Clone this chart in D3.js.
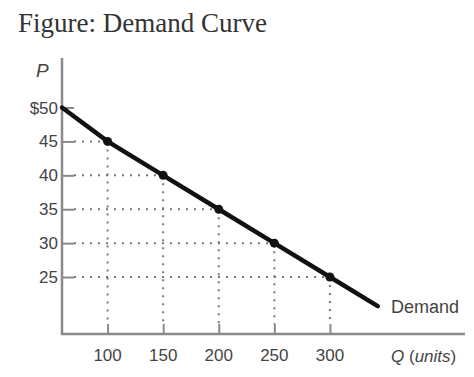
<!DOCTYPE html>
<html lang="en">
<head>
  <meta charset="UTF-8">
  <title>Demand Curve</title>
  <script src="https://d3js.org/d3.v7.min.js"></script>
  <style>
    body { margin: 0; background: #fff; }
    svg { font-family: "Liberation Sans", Arial, sans-serif; }
    .title { font-family: "Liberation Serif", "Times New Roman", serif; font-size: 27px; fill: #333; }
    .tick-label { font-size: 17px; fill: #444; }
    .guide { stroke: #777; stroke-width: 2; stroke-dasharray: 2,6; fill: none; }
    .axis-line { stroke: #8a8a8a; stroke-width: 2.5; }
    .demand { fill: none; stroke: #111; stroke-width: 4.5; stroke-linecap: round; }
  </style>
</head>
<body>
  <svg width="474" height="377"></svg>

  <script>
    // data
    const quantities = [100, 150, 200, 250, 300];
    const prices = [45, 40, 35, 30, 25];
    const priceTicks = [50, 45, 40, 35, 30, 25];
    // demand line ends (Q, P)
    const lineQ = [59, 100, 150, 200, 250, 300, 343];
    const lineP = [50, 45, 40, 35, 30, 25, 20.7];

    const svg = d3.select("svg");

    const x = d3.scaleLinear().domain([59, 421.5]).range([62, 465]);
    const y = d3.scaleLinear().domain([16.6, 57.3]).range([334, 58]);

    const points = quantities.map((q, i) => ({ q: q, p: prices[i] }));
    const lineData = lineQ.map((q, i) => ({ q: q, p: lineP[i] }));

    // title
    svg.append("text")
      .attr("class", "title")
      .attr("x", 18)
      .attr("y", 32)
      .text("Figure: Demand Curve");

    // dotted guides
    svg.selectAll(".h-guide")
      .data(points)
      .enter()
      .append("line")
      .attr("class", "guide")
      .attr("x1", x(59) + 12)
      .attr("x2", d => x(d.q))
      .attr("y1", d => y(d.p))
      .attr("y2", d => y(d.p));

    svg.selectAll(".v-guide")
      .data(points)
      .enter()
      .append("line")
      .attr("class", "guide")
      .attr("x1", d => x(d.q))
      .attr("x2", d => x(d.q))
      .attr("y1", d => y(d.p))
      .attr("y2", y(16.6) - 10);

    // axes
    const yAxis = svg.append("g").attr("transform", `translate(${x(59)},0)`)
      .call(d3.axisRight(y).tickValues(priceTicks).tickSize(12).tickFormat(""));
    const xAxis = svg.append("g").attr("transform", `translate(0,${y(16.6)})`)
      .call(d3.axisTop(x).tickValues(quantities).tickSize(10).tickFormat(""));
    [yAxis, xAxis].forEach(a => {
      a.select(".domain").remove();
      a.selectAll(".tick line").attr("stroke", "#8a8a8a").attr("stroke-width", 2);
    });

    svg.append("line").attr("class", "axis-line")
      .attr("x1", x(59)).attr("x2", x(59))
      .attr("y1", y(57.3)).attr("y2", y(16.6) + 1);
    svg.append("line").attr("class", "axis-line")
      .attr("x1", x(59) - 1).attr("x2", x(421.5))
      .attr("y1", y(16.6)).attr("y2", y(16.6));

    // tick labels
    svg.selectAll(".y-label")
      .data(priceTicks)
      .enter()
      .append("text")
      .attr("class", "tick-label")
      .attr("x", 58)
      .attr("y", d => y(d) + 6)
      .attr("text-anchor", "end")
      .text(d => d === 50 ? "$50" : d);

    svg.selectAll(".x-label")
      .data(quantities)
      .enter()
      .append("text")
      .attr("class", "tick-label")
      .attr("x", d => x(d))
      .attr("y", 361)
      .attr("text-anchor", "middle")
      .text(d => d);

    // axis titles
    svg.append("text")
      .attr("x", 36).attr("y", 77)
      .style("font-size", "19px").style("font-style", "italic").attr("fill", "#444")
      .text("P");

    const qt = svg.append("text")
      .attr("x", 391).attr("y", 362)
      .style("font-size", "17px").attr("fill", "#444");
    qt.append("tspan").style("font-style", "italic").text("Q");
    qt.append("tspan").text(" (");
    qt.append("tspan").style("font-style", "italic").text("units");
    qt.append("tspan").text(")");

    // demand curve
    svg.append("path")
      .datum(lineData)
      .attr("class", "demand")
      .attr("d", d3.line().x(d => x(d.q)).y(d => y(d.p)));

    svg.selectAll(".pt")
      .data(points)
      .enter()
      .append("circle")
      .attr("cx", d => x(d.q))
      .attr("cy", d => y(d.p))
      .attr("r", 4.5)
      .attr("fill", "#111");

    svg.append("text")
      .attr("x", 391).attr("y", 313)
      .style("font-size", "18px").attr("fill", "#444")
      .text("Demand");
  </script>
</body>
</html>
